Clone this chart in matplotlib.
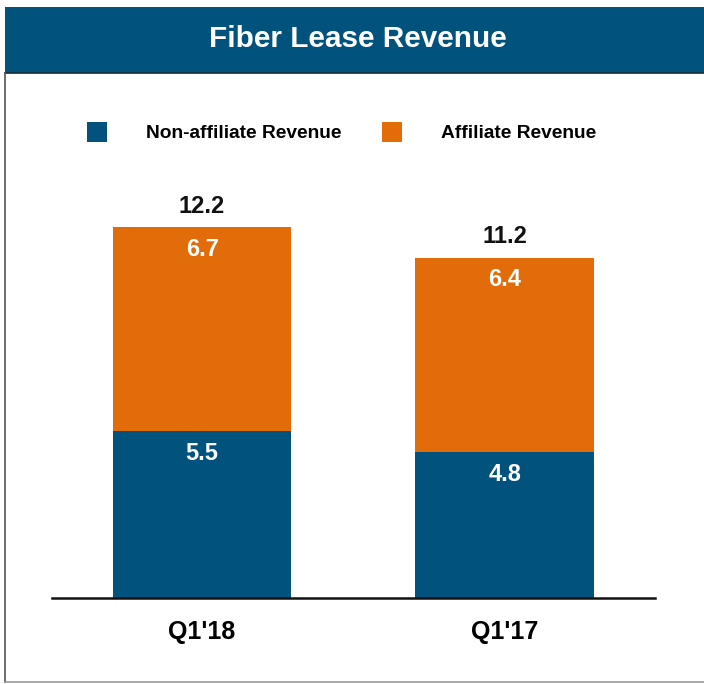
import matplotlib.pyplot as plt
from matplotlib.patches import Rectangle
from matplotlib.lines import Line2D

plt.rcParams['font.family'] = ['Liberation Sans', 'DejaVu Sans']

# data
quarters = ["Q1'18", "Q1'17"]
non_affiliate = [5.5, 4.8]
affiliate = [6.7, 6.4]
totals = [12.2, 11.2]

BLUE = '#02527E'
ORANGE = '#E36C0A'

W, H = 704, 684
fig = plt.figure(figsize=(W / 100, H / 100), dpi=100)


def fx(px):
    return px / W


def fy(py):
    return 1 - py / H


# title bar and frame
fig.patches.append(Rectangle((fx(5), fy(73)), 1 - fx(5), fy(7) - fy(73),
                             transform=fig.transFigure, facecolor=BLUE,
                             edgecolor='none', zorder=0))
fig.lines.append(Line2D([fx(5), 1], [fy(73), fy(73)], transform=fig.transFigure,
                        color='#1a2a33', lw=1.2))
fig.lines.append(Line2D([fx(5), fx(5)], [fy(73), fy(682)], transform=fig.transFigure,
                        color='#555555', lw=1.2))
fig.lines.append(Line2D([fx(5), 1], [fy(682), fy(682)], transform=fig.transFigure,
                        color='#999999', lw=1.2))
fig.text(fx(358), fy(39), 'Fiber Lease Revenue', color='white', fontsize=21.4,
         fontweight='bold', ha='center', va='center')

ax = fig.add_axes([fx(52), fy(598), fx(655) - fx(52), fy(190) - fy(598)])
x = list(range(len(quarters)))
b1 = ax.bar(x, non_affiliate, width=0.59, color=BLUE, label='Non-affiliate Revenue')
b2 = ax.bar(x, affiliate, width=0.59, bottom=non_affiliate, color=ORANGE,
            label='Affiliate Revenue')

ax.set_xlim(-0.496, 1.497)
ax.set_ylim(0, 408 / 30.4)
ax.set_yticks([])
ax.set_xticks(x, quarters, fontsize=18, fontweight='bold')
ax.tick_params(axis='x', length=0, pad=16)
for s in ['top', 'right', 'left']:
    ax.spines[s].set_visible(False)
ax.spines['bottom'].set_linewidth(1.8)
ax.spines['bottom'].set_color('#111111')

for i in x:
    ax.annotate(f'{non_affiliate[i]:.1f}', (i, non_affiliate[i]), xytext=(0, -16),
                textcoords='offset points', ha='center', va='center',
                color='white', fontsize=17, fontweight='bold')
    ax.annotate(f'{affiliate[i]:.1f}', (i, totals[i]), xytext=(0, -16),
                textcoords='offset points', ha='center', va='center',
                color='white', fontsize=17, fontweight='bold')
    ax.annotate(f'{totals[i]:.1f}', (i, totals[i]), xytext=(0, 15),
                textcoords='offset points', ha='center', va='center',
                color='#111111', fontsize=17, fontweight='bold')

fig.legend(handles=[b1, b2], loc='center left', bbox_to_anchor=(fx(87), fy(132)),
           ncol=2, frameon=False, prop={'size': 13.8, 'weight': 'bold'},
           handlelength=1.04, handleheight=1.2, handletextpad=2.03,
           columnspacing=2.13, borderpad=0, borderaxespad=0)

fig.savefig('out.png', dpi=100)
